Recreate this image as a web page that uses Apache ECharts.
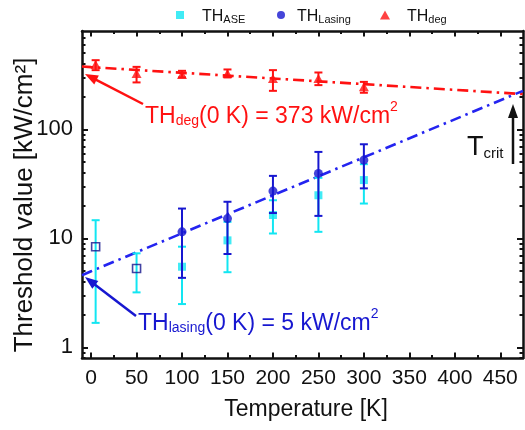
<!DOCTYPE html>
<html>
<head>
<meta charset="utf-8">
<script src="https://cdn.jsdelivr.net/npm/echarts@6/dist/echarts.min.js"></script>
<style>
  html, body { margin: 0; padding: 0; background: #fff; }
  #chart { width: 525px; height: 430px; }
</style>
</head>
<body>
<div id="chart"></div>
<script>
// Threshold measurements versus temperature
const temps = [5, 50, 100, 150, 200, 250, 300];

const aseValues = [8.4, 5.3, 5.5, 9.6, 16.4, 24.9, 34.3];
const aseLow    = [1.68, 3.2, 2.5, 4.9, 11.1, 11.5, 20.9];
const aseHigh   = [14.7, 7.3, 8.4, 14.2, 22.4, 36, 48];

const lasingTemps  = [100, 150, 200, 250, 300];
const lasingValues = [11.5, 15.2, 27.2, 39.5, 52.3];
const lasingLow    = [4.35, 7.2, 17.1, 16.1, 28.8];
const lasingHigh   = [18.8, 21.7, 37.5, 62.2, 73.1];

const degValues = [395, 326, 320, 326, 294, 294, 246];
const degLow    = [350, 270, 300, 300, 226, 255, 217];
const degHigh   = [432, 375, 345, 355, 350, 333, 273];

// exponential fits (straight on the log axis)
const fitTemps  = [-10, 0, 475];
const degFit    = [378, 373, 211];
const lasingFit = [4.6, 5, 226];

// axis ticks
const xMajor = [0, 50, 100, 150, 200, 250, 300, 350, 400, 450];
const xMinor = [25, 75, 125, 175, 225, 275, 325, 375, 425];
const yMajor = [1, 10, 100];
const yMinor = [0.8, 0.9, 2, 3, 4, 5, 6, 7, 8, 9, 20, 30, 40, 50, 60, 70, 80, 90, 200, 300, 400, 500, 600, 700];

const FONT = '"Liberation Sans", Arial, Helvetica, sans-serif';
const CYAN = '#12e6f2';
const BLUE = '#1717d0';
const BLUE_FIT = '#2424f0';
const RED = '#ff1111';
const BLACK = '#111';

const X_MIN = -10, X_MAX = 475, Y_MIN = 0.8, Y_MAX = 800;

function xAxisDef(pos, ticks, len, labels, line) {
  return {
    type: 'value', position: pos, min: X_MIN, max: X_MAX, gridIndex: 0,
    axisLine: { show: line, onZero: false, lineStyle: { color: BLACK, width: 2.5 } },
    axisTick: { show: true, inside: true, length: len, customValues: ticks, lineStyle: { color: BLACK, width: 2 } },
    axisLabel: labels ? { show: true, customValues: ticks, margin: 10, color: BLACK, fontSize: 21, fontFamily: FONT } : { show: false },
    splitLine: { show: false }
  };
}
function yAxisDef(pos, ticks, len, labels, line) {
  return {
    type: 'log', logBase: 10, position: pos, min: Y_MIN, max: Y_MAX, gridIndex: 0,
    axisLine: { show: line, onZero: false, lineStyle: { color: BLACK, width: 2.5 } },
    axisTick: { show: true, inside: true, length: len, customValues: ticks, lineStyle: { color: BLACK, width: 2 } },
    axisLabel: labels ? { show: true, customValues: ticks, margin: 9, color: BLACK, fontSize: 22, fontFamily: FONT } : { show: false },
    splitLine: { show: false }
  };
}

function errorBars(xs, lows, highs, color, z) {
  return {
    type: 'custom', z: z, silent: true,
    xAxisIndex: 0, yAxisIndex: 0,
    data: xs.map((x, i) => [x, lows[i], highs[i]]),
    encode: { x: 0, y: [1, 2] },
    renderItem(params, api) {
      const x = api.value(0);
      const lo = api.coord([x, api.value(1)]);
      const hi = api.coord([x, api.value(2)]);
      const w = 4;
      const st = { stroke: color, lineWidth: 2 };
      return {
        type: 'group',
        children: [
          { type: 'line', shape: { x1: lo[0], y1: lo[1], x2: hi[0], y2: hi[1] }, style: st },
          { type: 'line', shape: { x1: lo[0] - w, y1: lo[1], x2: lo[0] + w, y2: lo[1] }, style: st },
          { type: 'line', shape: { x1: hi[0] - w, y1: hi[1], x2: hi[0] + w, y2: hi[1] }, style: st }
        ]
      };
    }
  };
}

const legendRich = {
  m: { fontSize: 16, fontFamily: FONT, color: BLACK, verticalAlign: 'bottom', lineHeight: 20 },
  s: { fontSize: 11, fontFamily: FONT, color: BLACK, verticalAlign: 'bottom', lineHeight: 4 }
};
function legendDef(name, left, icon, w, h, pad) {
  return {
    data: [name], left: left, top: 4, icon: icon, itemWidth: w, itemHeight: h,
    selectedMode: false,
    formatter: n => '{m|TH}{s|' + n + '}',
    textStyle: { padding: [0, 0, 0, pad], rich: legendRich }
  };
}

// rich styles for annotation texts (zrender uses fill for text colour)
function annotRich(color, main, sub) {
  return {
    m: { fontSize: main, fontFamily: FONT, fill: color, verticalAlign: 'bottom', lineHeight: 28 },
    s: { fontSize: sub, fontFamily: FONT, fill: color, verticalAlign: 'bottom', lineHeight: 6 },
    p: { fontSize: sub, fontFamily: FONT, fill: color, verticalAlign: 'top', lineHeight: 14 }
  };
}

function arrow(x1, y1, x2, y2, color, headLen, headW) {
  const dx = x2 - x1, dy = y2 - y1, L = Math.hypot(dx, dy);
  const ux = dx / L, uy = dy / L, px = -uy, py = ux;
  const bx = x2 - ux * headLen, by = y2 - uy * headLen;
  return [
    { type: 'line', shape: { x1: x1, y1: y1, x2: bx + ux * 2, y2: by + uy * 2 }, style: { stroke: color, lineWidth: 2.5 }, z: 100 },
    { type: 'polygon', shape: { points: [[x2, y2], [bx + px * headW / 2, by + py * headW / 2], [bx - px * headW / 2, by - py * headW / 2]] }, style: { fill: color }, z: 100 }
  ];
}

const chart = echarts.init(document.getElementById('chart'), null, { renderer: 'canvas' });

const aseData = temps.map((t, i) => {
  const item = { value: [t, aseValues[i]] };
  if (i < 2) item.itemStyle = { color: 'rgba(255,255,255,0)', borderColor: '#14148c', borderWidth: 1.6 };
  return item;
});

chart.setOption({
  backgroundColor: '#fff',
  animation: false,
  grid: { left: 82, right: 2, top: 31, bottom: 72, outerBoundsMode: 'none' },
  legend: [
    legendDef('ASE', 171, 'rect', 8, 8, 13),
    legendDef('Lasing', 272, 'circle', 8, 8, 7),
    legendDef('deg', 375, 'triangle', 10, 9, 12)
  ],
  xAxis: [
    xAxisDef('bottom', xMajor, 5.5, true, true),
    xAxisDef('bottom', xMinor, 3, false, false),
    xAxisDef('top', xMajor, 5.5, false, true),
    xAxisDef('top', xMinor, 3, false, false)
  ],
  yAxis: [
    yAxisDef('left', yMajor, 6, true, true),
    yAxisDef('left', yMinor, 3.5, false, false),
    yAxisDef('right', yMajor, 6, false, true),
    yAxisDef('right', yMinor, 3.5, false, false)
  ],
  series: [
    {
      type: 'line', z: 3, silent: true, showSymbol: false,
      data: fitTemps.map((t, i) => [t, degFit[i]]),
      lineStyle: { color: RED, width: 2.6, type: [11, 5, 2.5, 5] }
    },
    {
      type: 'line', z: 3, silent: true, showSymbol: false,
      data: fitTemps.map((t, i) => [t, lasingFit[i]]),
      lineStyle: { color: BLUE_FIT, width: 2.6, type: [11, 5, 2.5, 5] }
    },
    errorBars(temps, aseLow, aseHigh, CYAN, 4),
    {
      name: 'ASE', type: 'scatter', z: 5, symbol: 'rect', symbolSize: 8,
      itemStyle: { color: CYAN },
      data: aseData
    },
    errorBars(lasingTemps, lasingLow, lasingHigh, BLUE, 6),
    {
      name: 'Lasing', type: 'scatter', z: 7, symbol: 'circle', symbolSize: 9,
      itemStyle: { color: BLUE },
      data: lasingTemps.map((t, i) => [t, lasingValues[i]])
    },
    errorBars(temps, degLow, degHigh, RED, 8),
    {
      name: 'deg', type: 'scatter', z: 9, symbol: 'triangle', symbolSize: [10, 9],
      itemStyle: { color: RED },
      data: temps.map((t, i) => [t, degValues[i]])
    }
  ],
  graphic: [
    {
      type: 'text', x: 25, y: 205, rotation: Math.PI / 2, z: 100,
      style: { text: 'Threshold value [kW/cm²]', fontSize: 26, fontFamily: FONT, fill: BLACK, align: 'center', verticalAlign: 'middle' }
    },
    {
      type: 'text', x: 306, y: 410, z: 100,
      style: { text: 'Temperature [K]', fontSize: 23, fontFamily: FONT, fill: BLACK, align: 'center', verticalAlign: 'middle' }
    },
    {
      type: 'text', x: 145, y: 100, z: 100,
      style: { text: '{m|TH}{s|deg}{m|(0 K) = 373 kW/cm}{p|2}', rich: annotRich(RED, 23, 14), verticalAlign: 'top' }
    },
    {
      type: 'text', x: 138, y: 307, z: 100,
      style: { text: '{m|TH}{s|lasing}{m|(0 K) = 5 kW/cm}{p|2}', rich: annotRich(BLUE, 23, 14), verticalAlign: 'top' }
    },
    {
      type: 'text', x: 467, y: 133, z: 100,
      style: { text: '{m|T}{s|crit}', rich: annotRich(BLACK, 27, 15), verticalAlign: 'top' }
    },
    ...arrow(143, 104, 85, 74, RED, 13, 10),
    ...arrow(136, 316, 85, 277, BLUE, 13, 10),
    ...arrow(513, 164, 513, 104, BLACK, 14, 10)
  ]
});
</script>
</body>
</html>
